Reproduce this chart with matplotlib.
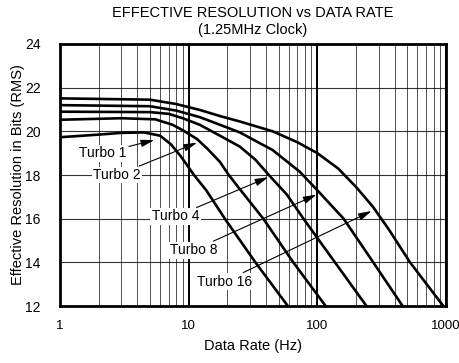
import matplotlib
matplotlib.use("Agg")
from matplotlib import pyplot as plt
from matplotlib.ticker import LogLocator, NullFormatter

plt.rcParams['font.family'] = ['Liberation Sans', 'DejaVu Sans']

# Datos (frecuencia en Hz, resolucion efectiva en bits)
f_turbo1 = [1, 2, 3, 4.5, 6, 7.3, 8.7, 11, 13.7, 19.1, 33, 59]
r_turbo1 = [19.73, 19.85, 19.93, 19.95, 19.8, 19.4, 18.85, 18.0, 17.3, 16.0, 14.0, 12.0]

f_turbo2 = [1, 3, 5.5, 7.5, 9, 11.6, 14, 17.5, 20.5, 25, 38, 65, 116]
r_turbo2 = [20.53, 20.6, 20.55, 20.3, 20.05, 19.65, 19.2, 18.6, 18.0, 17.35, 16.0, 14.0, 12.0]

f_turbo4 = [1, 5, 7, 9, 12.2, 17.5, 25, 33, 42, 58, 78, 137, 241]
r_turbo4 = [20.9, 20.88, 20.8, 20.6, 20.3, 19.8, 19.3, 18.7, 18.0, 17.1, 16.0, 14.0, 12.0]

f_turbo8 = [1, 5, 8, 12.2, 17.5, 25, 45, 73, 100, 160, 272, 460]
r_turbo8 = [21.2, 21.15, 20.95, 20.65, 20.3, 19.95, 19.14, 18.15, 17.3, 16.0, 14.0, 12.0]

f_turbo16 = [1, 5, 8, 12.2, 17.5, 25, 45, 70, 100, 145, 200, 270, 360, 525, 953]
r_turbo16 = [21.51, 21.45, 21.25, 20.98, 20.7, 20.45, 20.0, 19.5, 19.0, 18.3, 17.45, 16.55, 15.5, 14.0, 12.0]

# Etiquetas: texto, posicion del texto y punta de la flecha
etiquetas = ["Turbo 1", "Turbo 2", "Turbo 4", "Turbo 8", "Turbo 16"]
pos_texto = [(2.14, 19.0), (2.78, 18.0), (7.9, 16.1), (10.9, 14.56), (19.0, 13.12)]
pos_flecha = [(5.4, 19.6), (11.6, 19.48), (41.6, 17.9), (98.5, 17.1), (264, 16.35)]

x_ticks = [1, 10, 100, 1000]
y_ticks = [12, 14, 16, 18, 20, 22, 24]

fig = plt.figure(figsize=(4.6, 3.63), dpi=100)
ax = fig.add_axes([0.1304, 0.157, 0.8392, 0.7218])

ax.set_xscale('log')
ax.set_xlim(1, 1000)
ax.set_ylim(12, 24)

# Rejilla: lineas menores finas, 10 y 100 mas gruesas
ax.xaxis.set_minor_locator(LogLocator(base=10, subs=range(2, 10)))
ax.xaxis.set_minor_formatter(NullFormatter())
ax.grid(which='minor', axis='x', color='black', lw=0.6, alpha=0.8)
ax.grid(which='major', axis='x', color='black', lw=1.4)
ax.grid(which='major', axis='y', color='black', lw=0.8, alpha=0.8)
ax.set_axisbelow(True)

for f, r in [(f_turbo1, r_turbo1), (f_turbo2, r_turbo2), (f_turbo4, r_turbo4),
             (f_turbo8, r_turbo8), (f_turbo16, r_turbo16)]:
    ax.plot(f, r, color='black', lw=1.9, solid_joinstyle='round')

for texto, xy_t, xy_f in zip(etiquetas, pos_texto, pos_flecha):
    ax.annotate(texto, xy=xy_f, xytext=xy_t, ha='center', va='center', fontsize=10,
                bbox=dict(boxstyle='square,pad=0.1', fc='white', ec='none'),
                arrowprops=dict(arrowstyle='-|>,head_length=0.8,head_width=0.22',
                                color='black', lw=0.8, shrinkA=1, shrinkB=0))

ax.set_xticks(x_ticks)
ax.set_xticklabels([str(x) for x in x_ticks])
ax.set_yticks(y_ticks)
ax.tick_params(axis='both', which='both', length=0)
ax.tick_params(axis='x', pad=10, labelsize=9.5)
ax.tick_params(axis='y', pad=14, labelsize=10)

for s in ax.spines.values():
    s.set_linewidth(2)

ax.set_xlabel("Data Rate (Hz)", fontsize=10.5, labelpad=5)
ax.set_ylabel("Effective Resolution in Bits (RMS)", fontsize=10.5, labelpad=0)
fig.text(0.55, 0.965, "EFFECTIVE RESOLUTION vs DATA RATE", ha='center', va='center', fontsize=10.5)
fig.text(0.55, 0.918, "(1.25MHz Clock)", ha='center', va='center', fontsize=10.5)

plt.savefig("out.png", dpi=100)
